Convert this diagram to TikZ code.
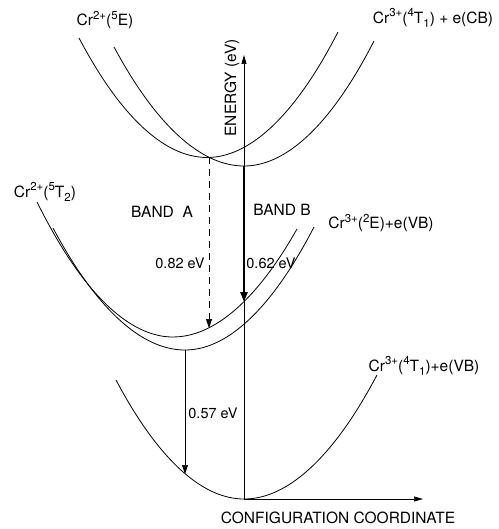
\documentclass[tikz,border=0pt]{standalone}
\usepackage{fontspec}
\setmainfont{TeX Gyre Heros}
\usetikzlibrary{arrows.meta}
\newcommand{\hiscr}[1]{\raisebox{0.42em}{\fontsize{11.5}{12}\selectfont #1}}
\newcommand{\loscr}[1]{\raisebox{-0.25em}{\fontsize{11.5}{12}\selectfont #1}}

\begin{document}
\begin{tikzpicture}[
  x=1pt, y=-1pt,
  curve/.style={line width=0.8pt},
  lbl/.style={inner sep=0pt, font=\fontsize{15.5}{17}\selectfont},
  val/.style={inner sep=0pt, font=\fontsize{14.5}{16}\selectfont},
  axis/.style={line width=0.7pt, -{Triangle[length=9pt,width=5pt]}},
  arr/.style={line width=0.7pt, -{Triangle[length=9pt,width=6pt]}}
]
\useasboundingbox (0,0) rectangle (498,529);

% potential curves
\coordinate (vC) at (207,157.5);
\coordinate (vD) at (244,166);
\coordinate (vA) at (173,337);
\coordinate (vB) at (185,350);
\coordinate (vE) at (244,499);
\draw[curve] (79,38) parabola bend (vC) (338,32);
\draw[curve] (114,47) parabola bend (vD) (374,41);
\draw[curve] (37,202) parabola bend (vA) (297,229);
\draw[curve] (53,228) parabola bend (vB) (314,227);
\draw[curve] (116,380) parabola bend (vE) (377,375);

% axes
\coordinate (ytop) at (244,55);
\coordinate (xend) at (423,499);
\draw[axis] (vE) -- (ytop);
\draw[axis] (vE) -- (xend);
\node[lbl, rotate=90] (en) at (232,88) {ENERGY (eV)};
\node[lbl] (cc) at (338,518) {CONFIGURATION COORDINATE};

% transitions
\coordinate (cross) at (209,157);
\coordinate (tipA) at (209,328);
\coordinate (tipB) at (244,302);
\coordinate (tipC) at (185,474);
\draw[arr, dashed, dash pattern=on 7pt off 5pt] (cross) -- (tipA);
\draw[arr, line width=2.4pt, -{Triangle[length=10pt,width=7pt]}] (vD) -- (tipB);
\draw[arr] (vB) -- (tipC);

\node[lbl] (bandA) at (162,212) {BAND\ \ A};
\node[lbl] (bandB) at (282,210) {BAND B};
\node[val] (evA) at (180,263) {0.82 eV};
\node[val] (evB) at (271,263) {0.62 eV};
\node[val] (evC) at (213,413) {0.57 eV};

% state labels
\node[lbl] (e5) at (105,20) {Cr\hiscr{2+}(\hiscr{5}E)};
\node[lbl] (t4cb) at (433,18) {Cr\hiscr{3+}(\hiscr{4}T\loscr{1}) + e(CB)};
\node[lbl] (t5) at (45,192) {Cr\hiscr{2+}(\hiscr{5}T\loscr{2})};
\node[lbl] (e2vb) at (381,223) {Cr\hiscr{3+}(\hiscr{2}E)+e(VB)};
\node[lbl] (t4vb) at (424,366) {Cr\hiscr{3+}(\hiscr{4}T\loscr{1})+e(VB)};
\end{tikzpicture}
\end{document}
